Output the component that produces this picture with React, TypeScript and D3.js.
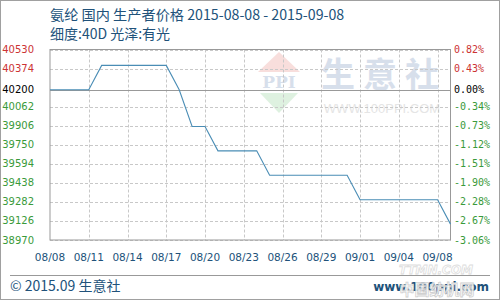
import React from "react";
import * as d3 from "d3";

const title = "氨纶 国内 生产者价格 2015-08-08 - 2015-09-08";
const subtitle = "细度:40D 光泽:有光";
const basePrice = 40200;
// daily prices, 32 points (index 0 = 08/08)
const prices = [
  40200, 40200, 40200, 40200, 40400, 40400, 40400, 40400, 40400, 40400,
  40200, 39900, 39900, 39700, 39700, 39700, 39700, 39500, 39500, 39500,
  39500, 39500, 39500, 39500, 39300, 39300, 39300, 39300, 39300, 39300,
  39300, 39100,
];
const xTickLabels = ["08/08", "08/11", "08/14", "08/17", "08/20", "08/23", "08/26", "08/29", "09/01", "09/04", "09/08"];
const xTickStep = 3;
const yTicks = [40530, 40374, 40200, 40062, 39906, 39750, 39594, 39438, 39282, 39126, 38970];
const pctLabels = ["0.82%", "0.43%", "0.00%", "-0.34%", "-0.73%", "-1.12%", "-1.51%", "-1.90%", "-2.28%", "-2.67%", "-3.06%"];

const W = 500, H = 300;
const L = 50, R = 450.5, T = 49.5, B = 240;

export default function App() {
  const x = d3.scaleLinear().domain([0, prices.length - 1]).range([L, R]);
  const y = d3.scaleLinear().domain([38970, 40530]).range([B, T]);
  const line = d3.line<number>().x((_, i) => x(i)).y((d) => y(d));
  const gridStep = (40530 - 38970) / 10;
  const gridVals = d3.range(11).map((k) => 38970 + k * gridStep);
  const blue = "#21527a";
  const labelColor = (v: number) => (v > basePrice ? "#cc3333" : v < basePrice ? "#3a9a3a" : "#000");

  return (
    <svg width={W} height={H} style={{ position: "absolute", left: 0, top: 0, background: "#fff" }}>
      <rect x={0.5} y={0.5} width={W - 1} height={H - 1} fill="#fff" stroke="#a0a0a0" />
      <text x={50} y={20} fontFamily="'Noto Sans CJK SC', sans-serif" fontSize={14.2} fill={blue}>{title}</text>
      <text x={50} y={39} fontFamily="'Noto Sans CJK SC', sans-serif" fontSize={14} fill={blue}>{subtitle}</text>

      {/* watermark */}
      <g opacity={0.55}>
        <polygon points="258,72 279,52 300,72" fill="#f4c4c0" />
        <text x={279} y={88} textAnchor="middle" fontFamily="'DejaVu Serif', serif" fontWeight="bold" fontSize={17} fill="#b8c6dc">PPI</text>
        <polygon points="260,93 279,113 298,93" fill="#c4e6c8" />
        <text x={384} y={87} textAnchor="middle" fontFamily="'Noto Sans CJK SC', sans-serif" fontWeight="bold" fontSize={34} fill="#b8c6dc" letterSpacing={8}>生意社</text>
        <text x={382} y={113} textAnchor="middle" fontFamily="'Liberation Sans', sans-serif" fontSize={13} fill="#d0d0d0">WWW.100PPI.COM</text>
      </g>

      {/* horizontal grid */}
      {gridVals.map((v, i) =>
        Math.abs(v - basePrice) < gridStep / 2 ? null : (
          <line key={"h" + i} x1={L} x2={R} y1={Math.round(y(v)) + 0.5} y2={Math.round(y(v)) + 0.5} stroke="#c8c8c8" strokeDasharray="3,2" />
        )
      )}
      {/* vertical grid */}
      {xTickLabels.map((_, i) =>
        i === 0 ? null : (
          <line key={"v" + i} x1={Math.round(x(i * xTickStep)) + 0.5} x2={Math.round(x(i * xTickStep)) + 0.5} y1={T} y2={B} stroke="#c8c8c8" strokeDasharray="3,2" />
        )
      )}
      {/* base line */}
      <line x1={L} x2={R} y1={Math.round(y(basePrice)) + 0.5} y2={Math.round(y(basePrice)) + 0.5} stroke="#999" strokeWidth={1} />
      {/* border */}
      <rect x={L} y={T} width={R - L} height={B - T} fill="none" stroke="#999" />

      <path d={line(prices) || ""} fill="none" stroke="#4a8db5" strokeWidth={1.1} />

      {/* left labels */}
      {yTicks.map((v, i) => (
        <text key={"l" + i} x={34} y={v === basePrice ? y(v) : y(gridVals[10 - i])} dy="0.35em" textAnchor="end" fontFamily="'DejaVu Sans', sans-serif" fontSize={10} fill={labelColor(v)}>{v}</text>
      ))}
      {/* right labels */}
      {pctLabels.map((p, i) => (
        <text key={"r" + i} x={454} y={yTicks[i] === basePrice ? y(basePrice) : y(gridVals[10 - i])} dy="0.35em" fontFamily="'DejaVu Sans Mono', monospace" fontSize={10} fill={labelColor(yTicks[i])}>{p}</text>
      ))}
      {/* x labels */}
      {xTickLabels.map((lab, i) => (
        <text key={"x" + i} x={x(i * xTickStep)} y={261} textAnchor="middle" fontFamily="'DejaVu Sans', sans-serif" fontSize={10.5} fill={blue}>{lab}</text>
      ))}

      {/* footer */}
      <line x1={10} x2={490} y1={275.5} y2={275.5} stroke="#999" />
      <text x={10} y={291} fontFamily="'Noto Sans CJK SC', sans-serif" fontSize={14} fill={blue}>© 2015.09 生意社</text>
      <text x={489} y={291} textAnchor="end" fontFamily="'DejaVu Sans', sans-serif" fontWeight="bold" fontSize={12} fill={blue}>www.100ppi.com</text>
      <text x={436} y={274} textAnchor="middle" fontFamily="'DejaVu Sans', sans-serif" fontWeight="bold" fontStyle="italic" fontSize={12} fill="#fff" stroke="#ddd" strokeWidth={0.8}>TTMN.COM</text>
      <text x={437} y={295} textAnchor="middle" fontFamily="'Noto Sans CJK SC', sans-serif" fontWeight="bold" fontSize={15} fill="#fff" stroke="#ccc" strokeWidth={0.8} opacity={0.9}>中国纺机网</text>
    </svg>
  );
}
